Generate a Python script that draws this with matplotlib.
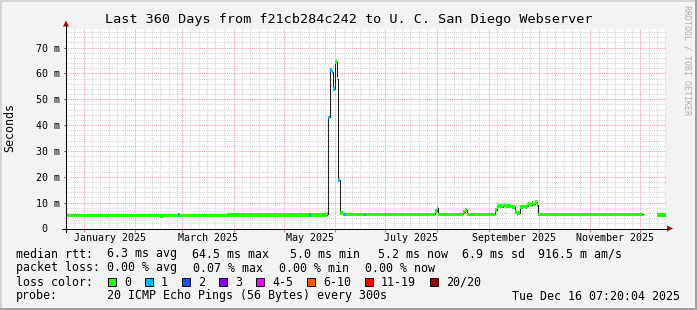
import numpy as np
import matplotlib.pyplot as plt
from matplotlib.lines import Line2D
from matplotlib.patches import Rectangle, Polygon

W, H = 697, 310
MONO = 'DejaVu Sans Mono'

start = np.datetime64('2024-12-21T07:20:04')
span_days = 360

# median rtt (ms) as steps: value holds from seg_day[i] until the next entry
seg_day = [0.0, 24.4, 25.4, 56.4, 58.4, 67.2, 68.2, 96.6,
           146.0, 147.0, 156.4, 157.4, 158.4, 159.4, 160.4, 161.4, 162.4,
           163.4, 164.4, 166.4, 167.0, 168.0, 179.0, 180.0,
           221.4, 222.4, 223.4, 238.4, 239.4, 240.4,
           257.4, 258.4, 259.4, 260.4, 261.4, 262.4, 263.4, 264.4, 265.4,
           266.4, 267.4, 268.4, 269.4, 270.4, 271.4, 272.4, 273.4, 274.4,
           275.4, 276.4, 277.4, 278.4, 279.4, 280.4, 281.4, 282.4, 283.4,
           346.4, 354.6]
seg_ms = [5.05, 4.85, 5.05, 4.85, 5.05, 5.1, 5.05, 5.35,
          5.35, 5.35, 5.8, 43.0, 61.3, 60.5, 54.0, 64.5, 58.0,
          18.7, 5.9, 5.45, 5.45, 5.45, 5.45, 5.45,
          6.7, 7.8, 5.45, 6.3, 7.1, 5.45,
          7.1, 8.2, 8.6, 8.7, 8.5, 8.9, 8.8, 8.6, 8.6,
          8.5, 8.3, 8.3, 6.5, 5.6, 5.9, 8.3, 8.4, 8.5,
          8.4, 8.7, 9.6, 9.2, 9.9, 9.3, 10.2, 9.2, 5.45,
          np.nan, 5.3]
# index into the loss colour classes below
seg_loss = [0, 0, 0, 0, 0, 1, 0, 0,
            1, 0, 0, 1, 1, 1, 1, 0, 0,
            1, 0, 0, 1, 0, 1, 0,
            0, 0, 0, 0, 0, 0,
            0, 0, 0, 0, 0, 0, 0, 0, 0,
            0, 0, 0, 0, 0, 0, 0, 0, 0,
            0, 0, 0, 0, 0, 0, 0, 0, 0,
            0, 0]

loss_labels = ['0', '1', '2', '3', '4-5', '6-10', '11-19', '20/20']
loss_colors = ['#26ff00', '#00b8ff', '#0059ff', '#7e00ff', '#ff00ff',
               '#ff5500', '#ff0000', '#a10000']

y_ticks = [0, 10, 20, 30, 40, 50, 60, 70]
y_labels = ['0\u00a0\u00a0', '10 m', '20 m', '30 m', '40 m', '50 m', '60 m', '70 m']
label_months = ['2025-01', '2025-03', '2025-05', '2025-07', '2025-09', '2025-11']
month_labels = ['January 2025', 'March 2025', 'May 2025', 'July 2025',
                'September 2025', 'November 2025']

title = 'Last 360 Days from f21cb284c242 to U. C. San Diego Webserver'
rtt_stats = ['6.3 ms avg', '64.5 ms max', '5.0 ms min', '5.2 ms now',
             '6.9 ms sd', '916.5 m am/s']
loss_stats = ['0.00 % avg', '0.07 % max', '0.00 % min', '0.00 % now']
probe_text = '20 ICMP Echo Pings (56 Bytes) every 300s'
stamp = 'Tue Dec 16 07:20:04 2025'


def to_day(t):
    return (t.astype('datetime64[s]') - start) / np.timedelta64(1, 'D')


def fx(x):
    return x / W


def fy(y):
    return 1 - y / H


fig = plt.figure(figsize=(W / 100, H / 100), dpi=100, facecolor='#f3f3f3')
ax = fig.add_axes([fx(66), fy(228.5), 600 / W, 200 / H])
ax.set_facecolor('white')
ax.set_xlim(0, span_days)
ax.set_ylim(0, 77.4)
for s in ax.spines.values():
    s.set_visible(False)

# grid: months red, ~5 day steps grey, 10 ms red, 2 ms grey
months = np.arange('2024-12', '2026-01', dtype='datetime64[M]')
month_x = to_day(months)
month_x = month_x[(month_x > 0) & (month_x < span_days)]
minor_x = []
for m in months:
    for d in (5, 10, 15, 20, 25):
        v = to_day(m.astype('datetime64[D]') + np.timedelta64(d, 'D'))
        if 0 < v < span_days:
            minor_x.append(v)
dot = (0, (1, 1))
ax.vlines(minor_x, 0, 77.4, colors='#d6d6d6', lw=0.75, linestyles=dot, zorder=0.5)
minor_y = [v for v in range(2, 78, 2) if v % 10]
ax.hlines(minor_y, 0, span_days, colors='#d6d6d6', lw=0.75, linestyles=dot, zorder=0.5)
ax.vlines(month_x, 0, 77.4, colors='#f0a4a4', lw=0.75, linestyles=dot, zorder=0.6)
ax.hlines(y_ticks[1:], 0, span_days, colors='#f0a4a4', lw=0.75, linestyles=dot, zorder=0.6)

ax.set_xticks(month_x)
ax.set_xticklabels([])
ax.tick_params(axis='x', which='major', length=2.2, width=0.75, color='#e07070')
lab_x = []
for m in label_months:
    a = np.datetime64(m, 'M')
    lab_x.append((to_day(a) + to_day(a + np.timedelta64(1, 'M'))) / 2)
ax.set_xticks(lab_x, minor=True)
ax.set_xticklabels(month_labels, minor=True, fontsize=7.2, family=MONO)
ax.tick_params(axis='x', which='minor', length=0, pad=3.0)

ax.set_yticks(y_ticks)
ax.set_yticklabels(y_labels, fontsize=7.2, family=MONO)
ax.tick_params(axis='y', which='major', length=1.5, width=0.75, color='#404040', pad=3.0)

# median line, then the loss coloured band on top of it
x_edges = seg_day + [span_days]
ax.step(x_edges, seg_ms + [seg_ms[-1]], where='post', color='#202020', lw=0.75, zorder=3)
sw = 0.72
ax.bar(seg_day, 2 * sw, width=np.diff(x_edges), bottom=np.array(seg_ms) - sw,
       align='edge', color=[loss_colors[k] for k in seg_loss], linewidth=0, zorder=4)

# axes with arrows
fig.add_artist(Line2D([fx(62), fx(667)], [fy(228.5)] * 2, color='black', lw=0.75))
fig.add_artist(Line2D([fx(66)] * 2, [fy(232), fy(26)], color='black', lw=0.75))
fig.add_artist(Polygon([(fx(667), fy(225.5)), (fx(673), fy(228.5)), (fx(667), fy(231.5))],
                       closed=True, color='#9b1010', lw=0))
fig.add_artist(Polygon([(fx(63), fy(26.5)), (fx(66), fy(20.5)), (fx(69), fy(26.5))],
                       closed=True, color='#9b1010', lw=0))

# frame
fig.add_artist(Rectangle((0, fy(2)), 1, 2 / H, color='#d4d4d4', lw=0))
fig.add_artist(Rectangle((0, 0), 2 / W, 1, color='#d4d4d4', lw=0))
fig.add_artist(Rectangle((0, 0), 1, 2 / H, color='#a0a0a0', lw=0))
fig.add_artist(Rectangle((fx(695), 0), 2 / W, 1, color='#a0a0a0', lw=0))

fig.text(fx(348.5), fy(19), title, ha='center', va='center', fontsize=9.7, family=MONO)
fig.text(fx(10), fy(127), 'Seconds', rotation=90, ha='center', va='center',
         fontsize=8.4, family=MONO)
fig.text(fx(687), fy(60), 'RRDTOOL / TOBI OETIKER', rotation=-90, ha='center',
         va='center', fontsize=6, family=MONO, color='#b0b0b0')

row_y = [254, 268, 282, 296]
fs = 8.4
fig.text(fx(16), fy(row_y[0]), 'median rtt:', va='center', fontsize=fs, family=MONO)
for x, s in zip([107, 192, 290, 378, 462, 538], rtt_stats):
    fig.text(fx(x), fy(row_y[0]), s, va='center', fontsize=fs, family=MONO)
fig.text(fx(16), fy(row_y[1]), 'packet loss:', va='center', fontsize=fs, family=MONO)
for x, s in zip([107, 193, 279, 365], loss_stats):
    fig.text(fx(x), fy(row_y[1]), s, va='center', fontsize=fs, family=MONO)
fig.text(fx(16), fy(row_y[2]), 'loss color:', va='center', fontsize=fs, family=MONO)
bx = 108
for lab, col in zip(loss_labels, loss_colors):
    fig.add_artist(Rectangle((fx(bx), fy(row_y[2] + 4)), 8 / W, 8 / H,
                             facecolor=col, edgecolor='black', lw=0.7))
    fig.text(fx(bx + 16), fy(row_y[2]), lab, va='center', fontsize=fs, family=MONO)
    bx = bx + 16 + 7 * len(lab) + 14
fig.text(fx(16), fy(row_y[3]), 'probe:', va='center', fontsize=fs, family=MONO)
fig.text(fx(107), fy(row_y[3]), probe_text, va='center', fontsize=fs, family=MONO)
fig.text(fx(680), fy(row_y[3]), stamp, ha='right', va='center', fontsize=fs, family=MONO)

fig.savefig('out.png', dpi=100, facecolor=fig.get_facecolor())
